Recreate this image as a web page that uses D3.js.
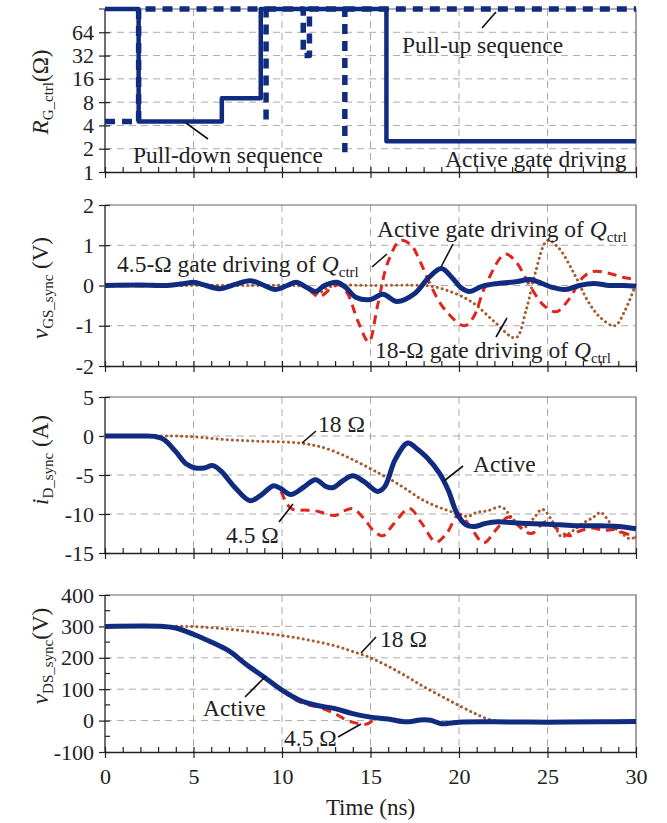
<!DOCTYPE html>
<html>
<head>
<meta charset="utf-8">
<script src="https://cdn.jsdelivr.net/npm/d3@7"></script>
<style>
  body { margin: 0; background: #fff; }
  text { font-family: "Liberation Serif", "Times New Roman", "DejaVu Serif", serif; fill: #222; }
</style>
</head>
<body>
<svg id="chart" width="667" height="823"></svg>
<script>
// ---- data ----
const timeMajor = [0, 5, 10, 15, 20, 25, 30];

// Panel 1: R_G_ctrl sequences (log2 axis), null = break in the line
const rgTicks = [1, 2, 4, 8, 16, 32, 64];
const pullDownT = [0, 1.9, 1.9, 6.6, 6.6, 8.8, 8.8, 15.9, 15.9, 30];
const pullDownR = [128, 128, 4.5, 4.5, 9, 9, 128, 128, 2.5, 2.5];
const pullUpT = [0, 1.9, 1.9, 9.1, 9.1, 9.1, 9.1, 11.2, 11.2, 11.55, 11.55, 13.55, 13.55, 13.55, 13.55, 30];
const pullUpR = [4.5, 4.5, 128, 128, 4.6, null, 128, 128, 32, 32, 128, 128, 1.8, null, 128, 128];

// Panel 2: v_GS_sync (V)
const vgsTicks = [-2, -1, 0, 1, 2];
const vgsActiveT = [0, 2, 3.5, 4.5, 5, 5.7, 6.5, 7.3, 8.2, 9, 9.6, 10.3, 10.8, 11.4, 11.9, 12.4, 13.1, 13.6, 14.2, 15, 15.7, 16.5, 17.5, 18.3, 19, 19.6, 20.1, 20.6, 21.3, 22.2, 23.3, 24, 24.7, 25.3, 26, 26.8, 27.6, 28.5, 29.3, 30];
const vgsActiveV = [0, 0.01, 0, 0.05, 0.08, 0, -0.08, 0.02, 0.12, 0, -0.1, 0, 0.08, -0.05, -0.15, 0, 0.08, -0.05, -0.3, -0.35, -0.22, -0.4, -0.2, 0.2, 0.42, 0.2, -0.05, -0.15, -0.02, 0.05, 0.1, 0.15, 0.05, -0.05, -0.1, 0, 0.05, 0, 0, -0.02];
const vgs45T = [0, 4, 5, 6.5, 8.2, 9.6, 10.8, 11.5, 12.1, 12.7, 13.2, 13.7, 14.3, 14.9, 15.4, 16, 16.7, 17.3, 17.8, 18.4, 19.2, 20.3, 20.8, 21.5, 22.6, 23.2, 24, 24.8, 25.5, 26.2, 27, 27.6, 28.5, 29.3, 30];
const vgs45V = [0, 0, 0.06, -0.06, 0.1, -0.08, 0.06, -0.1, -0.28, -0.1, 0.02, -0.2, -0.9, -1.4, -0.5, 0.6, 1.12, 1.0, 0.6, 0, -0.6, -1.0, -0.8, 0, 0.78, 0.6, 0, -0.5, -0.65, -0.35, 0.2, 0.35, 0.3, 0.2, 0.15];
const vgs18T = [0, 4, 8, 11.5, 12, 12.6, 13, 15, 18, 18.8, 19.5, 20.3, 21, 22, 23.2, 23.8, 24.3, 25, 25.6, 26.5, 27.3, 28, 28.8, 29.4, 30];
const vgs18V = [0, 0, 0, -0.05, -0.2, -0.05, 0, 0, 0, -0.05, -0.15, -0.3, -0.5, -0.9, -1.3, -0.6, 0.3, 1.12, 0.95, 0.3, -0.4, -0.8, -1.0, -0.6, 0.05];

// Panel 3: i_D_sync (A)
const idTicks = [-15, -10, -5, 0, 5];
const idActiveT = [0, 2, 2.8, 3.3, 4, 4.6, 5.1, 5.6, 6.1, 6.6, 7.3, 8.2, 8.8, 9.5, 9.9, 10.5, 11.2, 11.9, 12.5, 12.9, 13.4, 14, 14.6, 15.4, 15.8, 16.4, 17.1, 17.6, 18.2, 18.9, 19.4, 19.9, 20.4, 20.9, 21.5, 22.2, 23.5, 25, 26.5, 28, 29, 30];
const idActiveV = [0, 0, -0.05, -0.4, -2, -3.6, -4.1, -4.1, -3.8, -4.6, -6.5, -8.3, -7.6, -6.4, -6.7, -7.5, -6.6, -5.6, -6.5, -6.6, -5.8, -5.1, -5.8, -7.1, -6.5, -3, -0.9, -1.6, -2.8, -4.8, -7, -10, -11.4, -11.6, -11.2, -11, -11.2, -11.3, -11.5, -11.5, -11.6, -11.9];
const id45T = [0, 2, 2.8, 3.3, 4, 4.6, 5.1, 5.6, 6.1, 6.6, 7.3, 8.2, 8.8, 9.5, 9.9, 10.3, 10.7, 11.3, 11.9, 12.4, 13, 13.5, 14, 14.6, 15.2, 15.7, 16.3, 17.2, 17.9, 18.7, 19.3, 20, 20.6, 21.4, 22.1, 22.8, 23.5, 24.1, 24.9, 25.6, 26.2, 26.8, 27.5, 28.2, 28.8, 29.3, 30];
const id45V = [0, 0, -0.05, -0.4, -2, -3.6, -4.1, -4.1, -3.8, -4.6, -6.5, -8.3, -7.6, -6.4, -7, -8.8, -9.5, -9.5, -9.6, -9.9, -10.2, -9.6, -9.3, -10.5, -12.2, -12.8, -11.3, -9.3, -11.2, -13.6, -12.5, -10, -11.5, -13.7, -12, -10.4, -11.8, -12.5, -11, -12, -12.8, -12.2, -11.8, -12.1, -12, -12.4, -13];
const id18T = [0, 3.8, 5, 6, 7, 8, 9, 10, 11, 11.8, 12.5, 13.5, 14.5, 15.5, 16.3, 17, 17.8, 18.5, 19.3, 20, 20.5, 21, 21.6, 22.4, 23, 23.6, 24.2, 24.7, 25.3, 25.8, 26.4, 27, 27.6, 28, 28.6, 29.2, 29.7, 30];
const id18V = [0, 0, -0.1, -0.3, -0.5, -0.6, -0.7, -0.75, -0.9, -1.2, -1.6, -2.5, -3.6, -4.8, -5.8, -6.8, -8, -8.8, -9.5, -10, -10.3, -9.8, -9.6, -9.1, -10.5, -11.8, -10.6, -9.4, -11, -12.9, -12.2, -11.2, -10.4, -9.8, -11.3, -12.5, -13.2, -12.8];

// Panel 4: v_DS_sync (V)
const vdsTicks = [-100, 0, 100, 200, 300, 400];
const vdsMinor = [-50, 50, 150, 250, 350];
const vdsActiveT = [0, 3.3, 4, 5, 6, 7, 8, 9, 10, 11, 12, 13, 14, 15, 16, 16.8, 17.3, 17.8, 18.4, 19, 19.5, 20, 22, 25, 28, 30];
const vdsActiveV = [300, 300, 295, 275, 250, 222, 178, 138, 97, 65, 48, 38, 22, 11, 5, -3, -3, 2, 1, -10, -8, -5, -4, -5, -4, -3];
const vds45T = [0, 3.3, 4, 5, 6, 7, 8, 9, 10, 10.8, 11.5, 12.2, 13, 13.7, 14.2, 14.7, 15, 15.2];
const vds45V = [300, 300, 295, 275, 250, 222, 178, 138, 97, 65, 50, 40, 22, 0, -8, -12, -5, 5];
const vds18T = [0, 4.5, 6, 7, 8, 9, 10, 11, 12, 13, 14, 15, 16, 17, 18, 19, 20, 21, 21.8, 22.2];
const vds18V = [300, 300, 296, 291, 285, 278, 271, 262, 251, 238, 220, 200, 173, 142, 108, 78, 48, 20, 2, 0];

// ---- styles ----
const NAVY = '#0f2c80';
const RED = '#e0251d';
const BROWN = '#a65a2e';

const svg = d3.select('#chart');
const x = d3.scaleLinear().domain([0, 30]).range([105, 636]);

const zip = (ts, vs) => ts.map((t, i) => ({ t, v: vs[i] }));

const panels = [
    { y: d3.scaleLog().base(2).domain([1, 128]).range([172, 9]), ticks: rgTicks },
    { y: d3.scaleLinear().domain([-2, 2]).range([366, 205]), ticks: vgsTicks },
    { y: d3.scaleLinear().domain([-15, 5]).range([553, 397]), ticks: idTicks },
    { y: d3.scaleLinear().domain([-100, 400]).range([752, 595]), ticks: vdsTicks, minor: vdsMinor }
];

panels.forEach((p, idx) => {
    const [yb, yt] = p.y.range();
    const g = svg.append('g');

    // grid
    const yTop = p.y.domain()[1];
    const gridY = p.ticks.filter(v => v !== p.y.domain()[0] && v !== yTop);
    g.selectAll('.hg').data(gridY).enter().append('line')
        .attr('x1', x(0)).attr('x2', x(30))
        .attr('y1', d => p.y(d)).attr('y2', d => p.y(d))
        .attr('stroke', '#aaa').attr('stroke-width', 1).attr('stroke-dasharray', '7,5');
    g.selectAll('.vg').data(timeMajor.slice(1, -1)).enter().append('line')
        .attr('x1', d => x(d)).attr('x2', d => x(d))
        .attr('y1', yt).attr('y2', yb)
        .attr('stroke', '#aaa').attr('stroke-width', 1).attr('stroke-dasharray', '7,5');

    // frame top / right
    g.append('path')
        .attr('d', `M${x(0)},${yt}H${x(30)}V${yb}`)
        .attr('fill', 'none').attr('stroke', '#666').attr('stroke-width', 1.2);

    // y axis
    const ya = g.append('g').attr('transform', `translate(${x(0)},0)`)
        .call(d3.axisLeft(p.y).tickValues(p.ticks).tickFormat(d3.format('d')).tickSizeInner(6).tickSizeOuter(0).tickPadding(5));
    ya.attr('font-family', null);
    ya.select('.domain').attr('stroke', '#222').attr('stroke-width', 1.3)
        .attr('d', `M0,${yb}V${yt}`);
    ya.selectAll('.tick line').attr('x1', 5).attr('stroke', '#222').attr('stroke-width', 1.2);
    ya.selectAll('.tick text').style('font-size', '22px').attr('fill', '#222')
        .text(d => d < 0 ? '-' + Math.abs(d) : d);
    if (idx === 0) {
        g.append('line').attr('x1', x(0) - 6).attr('x2', x(0) + 5)
            .attr('y1', p.y(128)).attr('y2', p.y(128)).attr('stroke', '#222');
    }
    if (p.minor) {
        g.selectAll('.ymin').data(p.minor).enter().append('line')
            .attr('x1', x(0)).attr('x2', x(0) + 5)
            .attr('y1', d => p.y(d)).attr('y2', d => p.y(d))
            .attr('stroke', '#222').attr('stroke-width', 1.2);
    }

    // x axis
    const xa = g.append('g').attr('transform', `translate(0,${yb})`)
        .call(d3.axisBottom(x).tickValues(timeMajor).tickSizeInner(6).tickSizeOuter(0).tickPadding(10));
    xa.attr('font-family', null);
    xa.select('.domain').attr('stroke', '#222').attr('stroke-width', 1.3);
    xa.selectAll('.tick line').attr('y1', -5).attr('stroke', '#222').attr('stroke-width', 1.2);
    xa.selectAll('.tick text').style('font-size', '22px').attr('fill', '#222');
    if (idx < 3) xa.selectAll('.tick text').remove();
    const minorT = d3.range(1, 30).filter(v => v % 5 !== 0);
    const xm = g.append('g').attr('transform', `translate(0,${yb})`)
        .call(d3.axisBottom(x).tickValues(minorT).tickSize(-5).tickFormat(''));
    xm.select('.domain').remove();
    xm.selectAll('.tick line').attr('stroke', '#222').attr('stroke-width', 1.2);

    p.g = g;
});

// ---- series ----
const lineFor = (y, curve) => d3.line()
    .defined(d => d.v !== null)
    .x(d => x(d.t)).y(d => y(d.v))
    .curve(curve || d3.curveCatmullRom.alpha(0.5));

const drawSeries = (p, data, style, curve) => {
    p.g.append('path')
        .datum(data)
        .attr('fill', 'none')
        .attr('stroke', style.color)
        .attr('stroke-width', style.width)
        .attr('stroke-dasharray', style.dash || null)
        .attr('stroke-linecap', style.cap || 'butt')
        .attr('stroke-linejoin', 'round')
        .attr('d', lineFor(p.y, curve));
};

const solid = { color: NAVY, width: 5 };
const dashedRed = { color: RED, width: 3, dash: '9,6' };
const dotted = { color: BROWN, width: 3, dash: '0.1,5', cap: 'round' };

// panel 1
drawSeries(panels[0], zip(pullUpT, pullUpR), { color: NAVY, width: 5.5, dash: '10,7' }, d3.curveLinear);
drawSeries(panels[0], zip(pullDownT, pullDownR), { color: NAVY, width: 4.5 }, d3.curveLinear);

// panel 2
drawSeries(panels[1], zip(vgs18T, vgs18V), dotted);
drawSeries(panels[1], zip(vgs45T, vgs45V), dashedRed);
drawSeries(panels[1], zip(vgsActiveT, vgsActiveV), solid);

// panel 3
drawSeries(panels[2], zip(id18T, id18V), dotted);
drawSeries(panels[2], zip(id45T, id45V), dashedRed);
drawSeries(panels[2], zip(idActiveT, idActiveV), solid);

// panel 4
drawSeries(panels[3], zip(vds18T, vds18V), dotted);
drawSeries(panels[3], zip(vds45T, vds45V), dashedRed);
drawSeries(panels[3], zip(vdsActiveT, vdsActiveV), solid);

// ---- y titles ----
const yTitle = (cy, main, sub, tail) => {
    const t = svg.append('text')
        .attr('transform', `translate(48,${cy}) rotate(-90)`)
        .attr('text-anchor', 'middle')
        .style('font-size', '23px');
    t.append('tspan').style('font-style', 'italic').text(main);
    t.append('tspan').attr('dy', 5).style('font-size', '15px').text(sub);
    t.append('tspan').attr('dy', -5).text(tail);
};
yTitle(92, 'R', 'G_ctrl', '(Ω)');
yTitle(288, 'v', 'GS_sync', ' (V)');
yTitle(460, 'i', 'D_sync', ' (A)');
yTitle(656, 'v', 'DS_sync', '(V)');

svg.append('text').attr('x', x(15)).attr('y', 815).attr('text-anchor', 'middle')
    .style('font-size', '23px').text('Time (ns)');

// ---- annotations ----
const note = (tx, ty, str, q) => {
    const t = svg.append('text').attr('x', tx).attr('y', ty).style('font-size', '23.5px');
    t.append('tspan').text(str);
    if (q) {
        t.append('tspan').style('font-style', 'italic').text('Q');
        t.append('tspan').attr('dy', 5).style('font-size', '15px').text('ctrl');
    }
};
const leader = (x1, y1, x2, y2) => {
    svg.append('line').attr('x1', x1).attr('y1', y1).attr('x2', x2).attr('y2', y2)
        .attr('stroke', '#111').attr('stroke-width', 1.6);
};

note(133, 163, 'Pull-down sequence');
leader(186, 123, 208, 139);
note(402, 53, 'Pull-up sequence');
leader(482, 28, 496, 12);
note(445, 167, 'Active gate driving');

note(377, 237, 'Active gate driving of ', true);
leader(453, 244, 441, 267);
note(117, 272, '4.5-Ω gate driving of ', true);
leader(372, 267, 387, 254);
note(375, 358, '18-Ω gate driving of ', true);
leader(496, 337, 507, 318);

note(318, 432, '18 Ω');
leader(316, 431, 302, 443);
note(473, 472, 'Active');
leader(463, 466, 444, 481);
note(226, 543, '4.5 Ω');
leader(279, 522, 293, 504);

note(380, 647, '18 Ω');
leader(376, 637, 361, 653);
note(203, 716, 'Active');
leader(245, 697, 266, 676);
note(284, 746, '4.5 Ω');
leader(338, 737, 361, 724);
</script>
</body>
</html>
